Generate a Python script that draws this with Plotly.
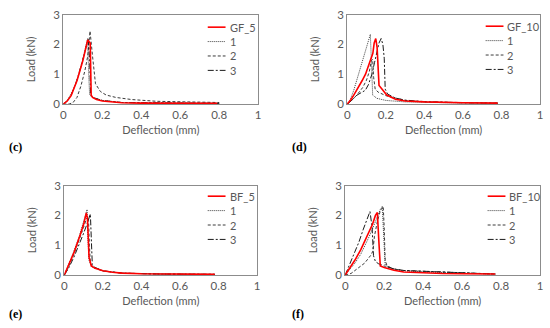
import plotly.graph_objects as go

# ---------------- data ----------------
panel_names = ["GF_5", "GF_10", "BF_5", "BF_10"]
panel_letters = ["(c)", "(d)", "(e)", "(f)"]
rep_names = ["1", "2", "3"]

# (c) GF_5
gf5_x = [0, 0.02, 0.04, 0.07, 0.1, 0.125, 0.138, 0.143, 0.15, 0.17, 0.2, 0.25, 0.3, 0.4, 0.5, 0.6, 0.7, 0.79]
gf5_y = [0, 0.1, 0.28, 0.78, 1.45, 2.15, 2.05, 0.3, 0.22, 0.15, 0.1, 0.06, 0.04, 0.03, 0.03, 0.03, 0.02, 0.02]
gf5_1_x = [0, 0.02, 0.05, 0.08, 0.1, 0.125, 0.13, 0.135, 0.15, 0.2, 0.3, 0.5, 0.8]
gf5_1_y = [0, 0.12, 0.45, 1.0, 1.5, 2.2, 1.0, 0.3, 0.22, 0.12, 0.05, 0.03, 0.02]
gf5_2_x = [0, 0.03, 0.05, 0.07, 0.09, 0.11, 0.125, 0.137, 0.15, 0.165, 0.19, 0.22, 0.27, 0.35, 0.48, 0.6, 0.8]
gf5_2_y = [0, 0.0, 0.05, 0.22, 0.6, 1.1, 1.6, 2.45, 1.6, 0.68, 0.42, 0.3, 0.22, 0.15, 0.09, 0.07, 0.05]
gf5_3_x = [0, 0.02, 0.04, 0.07, 0.1, 0.128, 0.135, 0.14, 0.16, 0.2, 0.3, 0.5, 0.8]
gf5_3_y = [0, 0.1, 0.3, 0.8, 1.5, 2.2, 1.5, 0.3, 0.2, 0.12, 0.05, 0.03, 0.02]

# (d) GF_10
gf10_x = [0, 0.02, 0.034, 0.055, 0.077, 0.095, 0.111, 0.125, 0.133, 0.14, 0.148, 0.155, 0.16, 0.165, 0.18, 0.205, 0.25, 0.3, 0.4, 0.5, 0.6, 0.78]
gf10_y = [0, 0.15, 0.3, 0.52, 0.78, 1.0, 1.27, 1.5, 1.7, 2.05, 2.2, 1.9, 0.9, 0.62, 0.5, 0.3, 0.16, 0.1, 0.07, 0.05, 0.04, 0.03]
gf10_1_x = [0, 0.01, 0.034, 0.05, 0.068, 0.085, 0.103, 0.12, 0.125, 0.128, 0.132, 0.154, 0.2, 0.3, 0.4, 0.6, 0.78]
gf10_1_y = [0, 0.05, 0.46, 0.8, 1.21, 1.6, 1.97, 2.34, 1.5, 0.5, 0.3, 0.19, 0.12, 0.07, 0.05, 0.03, 0.02]
gf10_2_x = [0, 0.02, 0.05, 0.08, 0.1, 0.115, 0.125, 0.132, 0.137, 0.145, 0.16, 0.2, 0.25, 0.3, 0.4, 0.6, 0.78]
gf10_2_y = [0, 0.1, 0.3, 0.55, 0.8, 1.1, 1.45, 1.5, 0.9, 0.5, 0.4, 0.28, 0.2, 0.12, 0.07, 0.04, 0.03]
gf10_3_x = [0, 0.02, 0.051, 0.07, 0.094, 0.11, 0.128, 0.142, 0.154, 0.165, 0.176, 0.185, 0.192, 0.197, 0.21, 0.25, 0.3, 0.4, 0.6, 0.78]
gf10_3_y = [0, 0.1, 0.3, 0.38, 0.46, 0.65, 1.0, 1.4, 1.75, 2.05, 2.2, 2.0, 1.54, 0.5, 0.33, 0.2, 0.13, 0.08, 0.04, 0.03]

# (e) BF_5
bf5_x = [0, 0.02, 0.05, 0.08, 0.1, 0.114, 0.12, 0.128, 0.14, 0.16, 0.2, 0.25, 0.3, 0.4, 0.5, 0.6, 0.78]
bf5_y = [0, 0.3, 0.75, 1.3, 1.7, 2.08, 1.9, 0.6, 0.3, 0.22, 0.14, 0.09, 0.06, 0.04, 0.03, 0.02, 0.02]
bf5_1_x = [0, 0.02, 0.05, 0.08, 0.1, 0.118, 0.122, 0.128, 0.14, 0.2, 0.3, 0.5, 0.78]
bf5_1_y = [0, 0.3, 0.8, 1.35, 1.8, 2.2, 1.3, 0.5, 0.28, 0.14, 0.06, 0.03, 0.02]
bf5_2_x = [0, 0.02, 0.05, 0.08, 0.1, 0.115, 0.125, 0.13, 0.135, 0.15, 0.2, 0.3, 0.5, 0.78]
bf5_2_y = [0, 0.25, 0.7, 1.2, 1.6, 1.9, 1.95, 1.0, 0.4, 0.25, 0.13, 0.06, 0.03, 0.02]
bf5_3_x = [0, 0.02, 0.05, 0.08, 0.1, 0.12, 0.135, 0.14, 0.145, 0.16, 0.2, 0.3, 0.5, 0.78]
bf5_3_y = [0, 0.2, 0.6, 1.05, 1.4, 1.75, 2.05, 1.2, 0.35, 0.25, 0.14, 0.06, 0.03, 0.02]

# (f) BF_10
bf10_x = [0, 0.02, 0.05, 0.08, 0.1, 0.12, 0.14, 0.155, 0.165, 0.172, 0.18, 0.2, 0.25, 0.3, 0.4, 0.5, 0.6, 0.77]
bf10_y = [0, 0.2, 0.5, 0.85, 1.15, 1.45, 1.7, 2.0, 2.1, 1.2, 0.3, 0.25, 0.16, 0.1, 0.07, 0.05, 0.04, 0.03]
bf10_1_x = [0, 0.02, 0.05, 0.08, 0.1, 0.12, 0.14, 0.16, 0.18, 0.19, 0.196, 0.2, 0.205, 0.25, 0.3, 0.4, 0.6, 0.77]
bf10_1_y = [0, 0.15, 0.4, 0.7, 0.95, 1.25, 1.55, 1.9, 2.2, 2.3, 1.5, 0.5, 0.32, 0.2, 0.14, 0.1, 0.05, 0.03]
bf10_2_x = [0, 0.03, 0.06, 0.1, 0.13, 0.142, 0.15, 0.165, 0.18, 0.195, 0.2, 0.205, 0.215, 0.25, 0.3, 0.4, 0.6, 0.77]
bf10_2_y = [0, 0.05, 0.2, 0.4, 0.65, 0.8, 1.3, 1.8, 2.15, 2.3, 1.6, 0.5, 0.3, 0.2, 0.15, 0.12, 0.06, 0.03]
bf10_3_x = [0, 0.02, 0.051, 0.07, 0.093, 0.11, 0.127, 0.138, 0.145, 0.155, 0.17, 0.2, 0.25, 0.3, 0.4, 0.6, 0.77]
bf10_3_y = [0, 0.3, 0.78, 1.1, 1.54, 1.85, 2.13, 1.6, 0.65, 0.45, 0.38, 0.3, 0.2, 0.15, 0.12, 0.06, 0.03]

x_ticks = [0, 0.2, 0.4, 0.6, 0.8, 1]
x_tick_text = ["0", "0.2", "0.4", "0.6", "0.8", "1"]
y_ticks = [0, 1, 2, 3]
y_tick_text = ["0", "1", "2", "3"]

panels = [
    [(gf5_x, gf5_y), (gf5_1_x, gf5_1_y), (gf5_2_x, gf5_2_y), (gf5_3_x, gf5_3_y)],
    [(gf10_x, gf10_y), (gf10_1_x, gf10_1_y), (gf10_2_x, gf10_2_y), (gf10_3_x, gf10_3_y)],
    [(bf5_x, bf5_y), (bf5_1_x, bf5_1_y), (bf5_2_x, bf5_2_y), (bf5_3_x, bf5_3_y)],
    [(bf10_x, bf10_y), (bf10_1_x, bf10_1_y), (bf10_2_x, bf10_2_y), (bf10_3_x, bf10_3_y)],
]

# ---------------- styling / layout ----------------
W, H = 550, 328
FONT = "Lato"
GRAY = "#595959"
FRAME = "#8c8c8c"

boxes = [(61, 258, 8, 101), (348, 543, 8, 101), (62, 257, 186, 279), (346, 543, 186, 279)]
legend_pos = [(207, 21), (488, 20), (207, 197), (490, 197)]
letter_pos = [(4, 146), (290, 146), (4, 320), (290, 320)]

styles = [
    dict(color="#ff0000", width=1.6, dash="solid"),
    dict(color="#404040", width=1, dash="1px,1px"),
    dict(color="#3a3a3a", width=1, dash="3px,2px"),
    dict(color="#1a1a1a", width=1, dash="6px,2px,2px,2px"),
]

fig = go.Figure()
shapes = []
annotations = []

def px2x(p):
    return p / W

def px2y(p):
    return 1 - p / H

for i, series in enumerate(panels):
    n = i + 1
    xa = "x" if n == 1 else f"x{n}"
    ya = "y" if n == 1 else f"y{n}"
    names = [panel_names[i]] + rep_names
    order = [1, 2, 3, 0]
    for k in order:
        sx, sy = series[k]
        fig.add_trace(go.Scatter(
            x=sx, y=sy, mode="lines", name=names[k],
            line=styles[k], xaxis=xa, yaxis=ya, showlegend=False,
            hoverinfo="skip"))
    l, r, t, b = boxes[i]
    xkey = "xaxis" if n == 1 else f"xaxis{n}"
    ykey = "yaxis" if n == 1 else f"yaxis{n}"
    fig.layout[xkey] = dict(
        domain=[px2x(l), px2x(r)], range=[0, 1], anchor=ya,
        tickvals=x_ticks, ticktext=x_tick_text, ticks="",
        showgrid=False, zeroline=False, showline=True, mirror=True,
        linecolor=FRAME, linewidth=1,
        tickfont=dict(family=FONT, size=11.5, color=GRAY),
        title=dict(text="Deflection (mm)", font=dict(family=FONT, size=11, color=GRAY), standoff=6),
    )
    fig.layout[ykey] = dict(
        domain=[px2y(b), px2y(t)], range=[0, 3], anchor=xa,
        tickvals=y_ticks, ticktext=y_tick_text, ticks="",
        showgrid=False, zeroline=False, showline=True, mirror=True,
        linecolor=FRAME, linewidth=1,
        tickfont=dict(family=FONT, size=11.5, color=GRAY),
        title=dict(text="Load (kN)", font=dict(family=FONT, size=11, color=GRAY), standoff=15),
    )
    lx, ly = legend_pos[i]
    for k in range(4):
        yy = ly + k * 15
        st = styles[k]
        shapes.append(dict(type="line", xref="paper", yref="paper",
                           x0=px2x(lx), x1=px2x(lx + 18), y0=px2y(yy), y1=px2y(yy),
                           line=dict(color=st["color"], width=st["width"], dash=st["dash"])))
        annotations.append(dict(text=names[k], xref="paper", yref="paper",
                                x=px2x(lx + 20), y=px2y(yy), xanchor="left", yanchor="middle",
                                showarrow=False, font=dict(family=FONT, size=11, color=GRAY)))
    cx, cy = letter_pos[i]
    annotations.append(dict(text="<b>" + panel_letters[i] + "</b>", xref="paper", yref="paper",
                            x=px2x(cx), y=px2y(cy), xanchor="left", yanchor="middle",
                            showarrow=False,
                            font=dict(family="Liberation Serif", size=12, color="#000000")))

fig.update_layout(
    width=W, height=H, margin=dict(l=0, r=0, t=0, b=0),
    paper_bgcolor="white", plot_bgcolor="white",
    showlegend=False, shapes=shapes, annotations=annotations,
)

fig.write_html("out.html", config={"displayModeBar": False},
               post_script="document.body.style.margin='0';document.body.style.overflow='hidden';")
